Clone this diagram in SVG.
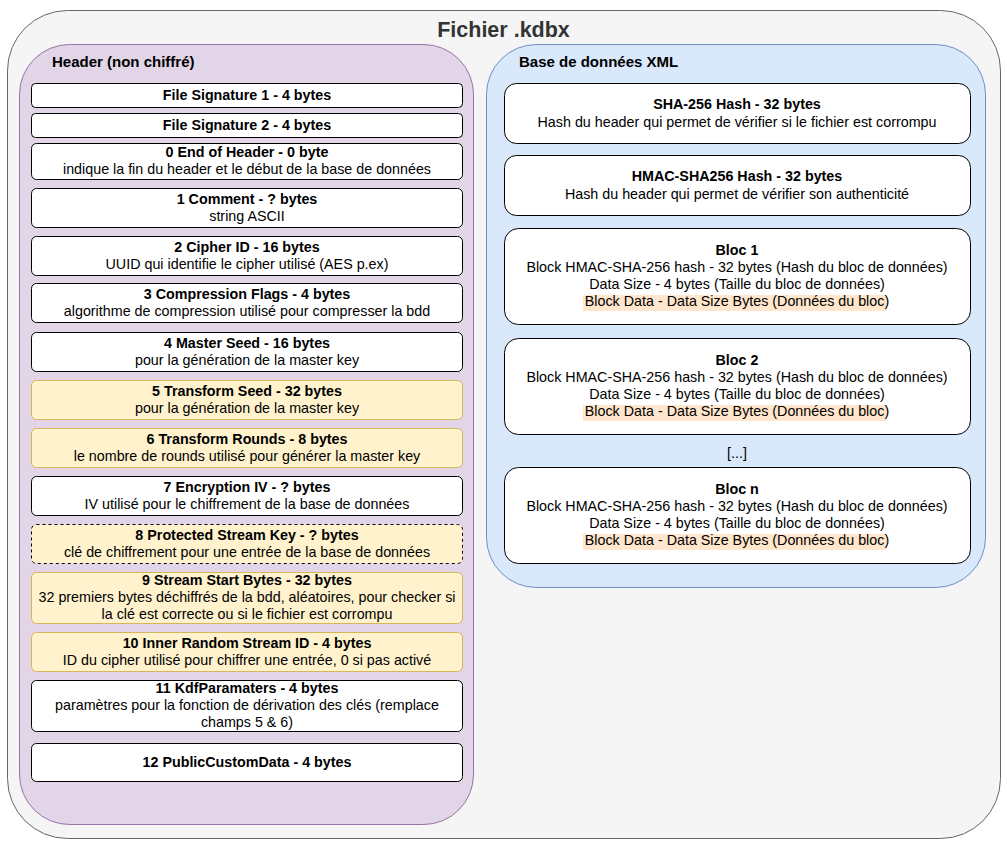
<svg xmlns="http://www.w3.org/2000/svg" width="1007" height="845" viewBox="0 0 1007 845">
<style>
text{font-family:"Liberation Sans",Arial,Helvetica,sans-serif;font-size:14.3px;fill:#000;text-anchor:middle}
.b{font-weight:bold}
.lb{fill:#fff;stroke:#000;stroke-width:1}
.ly{fill:#fff2cc;stroke:#d6b656;stroke-width:1}
.ld{fill:#fff2cc;stroke:#000;stroke-width:1;stroke-dasharray:3 3}
.rb{fill:#fff;stroke:#000;stroke-width:1}
.hl{fill:#ffe6cc}
</style>
<g id="fichier">
<rect x="7.5" y="10.5" width="993" height="828" rx="60" ry="60" fill="#f5f5f5" stroke="#666666"/>
<text x="503.5" y="37" class="b" style="font-size:21.5px;fill:#333333">Fichier .kdbx</text>
</g>
<g id="header">
<rect x="19.5" y="44.5" width="454" height="780" rx="50" ry="50" fill="#e1d5e7" stroke="#9673a6"/>
<text x="52" y="67" class="b" style="font-size:15px;text-anchor:start">Header (non chiffré)</text>
</g>
<g id="bdd">
<rect x="486.5" y="44.5" width="499" height="543" rx="50" ry="50" fill="#dae8fc" stroke="#6c8ebf"/>
<text x="519" y="67" class="b" style="font-size:15px;text-anchor:start">Base de données XML</text>
</g>
<g id="sig1"><rect class="lb" x="31.5" y="83.5" width="431" height="24" rx="4"/><text x="247" y="100" class="b">File Signature 1 - 4 bytes</text></g>
<g id="sig2"><rect class="lb" x="31.5" y="113.5" width="431" height="24" rx="4"/><text x="247" y="130" class="b">File Signature 2 - 4 bytes</text></g>
<g id="f0"><rect class="lb" x="31.5" y="143.5" width="431" height="36" rx="5"/><text x="247" y="157" class="b">0 End of Header - 0 byte</text><text x="247" y="174">indique la fin du header et le début de la base de données</text></g>
<g id="f1"><rect class="lb" x="31.5" y="188.5" width="431" height="39" rx="5"/><text x="247" y="204" class="b">1 Comment - ? bytes</text><text x="247" y="221">string ASCII</text></g>
<g id="f2"><rect class="lb" x="31.5" y="236.5" width="431" height="39" rx="5"/><text x="247" y="252" class="b">2 Cipher ID - 16 bytes</text><text x="247" y="269">UUID qui identifie le cipher utilisé (AES p.ex)</text></g>
<g id="f3"><rect class="lb" x="31.5" y="283.5" width="431" height="39" rx="5"/><text x="247" y="299" class="b">3 Compression Flags - 4 bytes</text><text x="247" y="316">algorithme de compression utilisé pour compresser la bdd</text></g>
<g id="f4"><rect class="lb" x="31.5" y="332.5" width="431" height="39" rx="5"/><text x="247" y="348" class="b">4 Master Seed - 16 bytes</text><text x="247" y="365">pour la génération de la master key</text></g>
<g id="f5"><rect class="ly" x="31.5" y="380.5" width="431" height="39" rx="5"/><text x="247" y="396" class="b">5 Transform Seed - 32 bytes</text><text x="247" y="413">pour la génération de la master key</text></g>
<g id="f6"><rect class="ly" x="31.5" y="428.5" width="431" height="39" rx="5"/><text x="247" y="444" class="b">6 Transform Rounds - 8 bytes</text><text x="247" y="461">le nombre de rounds utilisé pour générer la master key</text></g>
<g id="f7"><rect class="lb" x="31.5" y="476.5" width="431" height="39" rx="5"/><text x="247" y="492" class="b">7 Encryption IV - ? bytes</text><text x="247" y="509">IV utilisé pour le chiffrement de la base de données</text></g>
<g id="f8"><rect class="ld" x="31.5" y="524.5" width="431" height="39" rx="5"/><text x="247" y="540" class="b">8 Protected Stream Key - ? bytes</text><text x="247" y="557">clé de chiffrement pour une entrée de la base de données</text></g>
<g id="f9"><rect class="ly" x="31.5" y="572.5" width="431" height="51" rx="5"/><text x="247" y="585" class="b">9 Stream Start Bytes - 32 bytes</text><text x="247" y="602">32 premiers bytes déchiffrés de la bdd, aléatoires, pour checker si</text><text x="247" y="619">la clé est correcte ou si le fichier est corrompu</text></g>
<g id="f10"><rect class="ly" x="31.5" y="632.5" width="431" height="39" rx="5"/><text x="247" y="648" class="b">10 Inner Random Stream ID - 4 bytes</text><text x="247" y="665">ID du cipher utilisé pour chiffrer une entrée, 0 si pas activé</text></g>
<g id="f11"><rect class="lb" x="31.5" y="680.5" width="431" height="51" rx="5"/><text x="247" y="693" class="b">11 KdfParamaters - 4 bytes</text><text x="247" y="710">paramètres pour la fonction de dérivation des clés (remplace</text><text x="247" y="727">champs 5 &amp; 6)</text></g>
<g id="f12"><rect class="lb" x="31.5" y="743.5" width="431" height="38" rx="5"/><text x="247" y="767" class="b">12 PublicCustomData - 4 bytes</text></g>
<g id="sha"><rect class="rb" x="504.5" y="83.5" width="466" height="60" rx="12"/><text x="737" y="109" class="b">SHA-256 Hash - 32 bytes</text><text x="737" y="127">Hash du header qui permet de vérifier si le fichier est corrompu</text></g>
<g id="hmac"><rect class="rb" x="504.5" y="155.5" width="466" height="60" rx="12"/><text x="737" y="181" class="b">HMAC-SHA256 Hash - 32 bytes</text><text x="737" y="199">Hash du header qui permet de vérifier son authenticité</text></g>
<g id="bloc1"><rect class="rb" x="504.5" y="228.5" width="466" height="96" rx="14"/><rect class="hl" x="583" y="295" width="304" height="16"/><text x="737" y="255" class="b">Bloc 1</text><text x="737" y="272">Block HMAC-SHA-256 hash - 32 bytes (Hash du bloc de données)</text><text x="737" y="289">Data Size - 4 bytes (Taille du bloc de données)</text><text x="737" y="306">Block Data - Data Size Bytes (Données du bloc)</text></g>
<g id="bloc2"><rect class="rb" x="504.5" y="338.5" width="466" height="96" rx="14"/><rect class="hl" x="583" y="405" width="304" height="16"/><text x="737" y="365" class="b">Bloc 2</text><text x="737" y="382">Block HMAC-SHA-256 hash - 32 bytes (Hash du bloc de données)</text><text x="737" y="399">Data Size - 4 bytes (Taille du bloc de données)</text><text x="737" y="416">Block Data - Data Size Bytes (Données du bloc)</text></g>
<g id="ellipsis"><text x="737" y="458">[...]</text></g>
<g id="blocn"><rect class="rb" x="504.5" y="467.5" width="466" height="96" rx="14"/><rect class="hl" x="583" y="534" width="304" height="16"/><text x="737" y="494" class="b">Bloc n</text><text x="737" y="511">Block HMAC-SHA-256 hash - 32 bytes (Hash du bloc de données)</text><text x="737" y="528">Data Size - 4 bytes (Taille du bloc de données)</text><text x="737" y="545">Block Data - Data Size Bytes (Données du bloc)</text></g>
<g id="connectors"></g>
</svg>
